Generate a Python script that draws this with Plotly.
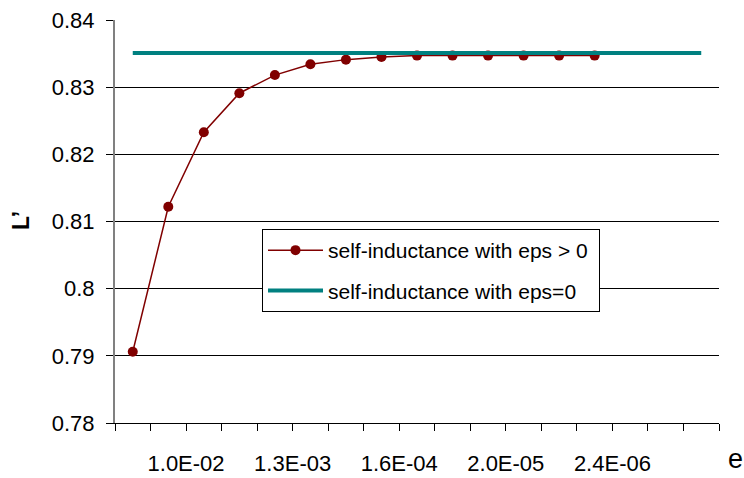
import plotly.graph_objects as go

# x positions are category indices (eps halves at each step)
eps_pos = list(range(14))
l_eps = [0.7906, 0.8122, 0.8233, 0.8291, 0.8318, 0.8334, 0.8341, 0.8345,
         0.8347, 0.8347, 0.8347, 0.8347, 0.8347, 0.8347]
zero_pos = list(range(17))
l_zero = [0.8351] * 17

tick_pos = [1.5, 4.5, 7.5, 10.5, 13.5]
tick_text = ["1.0E-02", "1.3E-03", "1.6E-04", "2.0E-05", "2.4E-06"]
y_ticks = [0.78, 0.79, 0.80, 0.81, 0.82, 0.83, 0.84]
y_text = ["0.78", "0.79", "0.8", "0.81", "0.82", "0.83", "0.84"]

FONT = "Liberation Sans, Arial, sans-serif"

fig = go.Figure()
fig.add_trace(go.Scatter(
    x=eps_pos, y=l_eps, mode="lines+markers",
    name="self-inductance with eps > 0\u00a0", legendgroup="a",
    line=dict(color="#800000", width=1.5),
    marker=dict(color="#800000", size=10),
))
fig.add_trace(go.Scatter(
    x=zero_pos, y=l_zero, mode="lines",
    name="self-inductance with eps=0", legendgroup="b",
    line=dict(color="#008080", width=4),
))

fig.update_layout(
    width=744, height=478,
    margin=dict(l=115, r=25, t=20, b=55),
    paper_bgcolor="white", plot_bgcolor="white",
    font=dict(family=FONT, size=22, color="black"),
    showlegend=True,
    legend=dict(
        x=(262 - 115) / 604, y=(423 - 229) / 403, xanchor="left", yanchor="top",
        bgcolor="white", bordercolor="black", borderwidth=1,
        font=dict(size=21, family=FONT),
        traceorder="grouped", tracegroupgap=10, itemwidth=55,
    ),
    xaxis=dict(
        range=[-0.5, 16.5], tickmode="array", tickvals=tick_pos, ticktext=tick_text,
        showgrid=False, zeroline=False, showline=True, linecolor="black", linewidth=1,
        ticks="outside", ticklen=7, tickcolor="black", tickwidth=1,
        ticklabelstandoff=14, automargin=False,
        minor=dict(tick0=-0.5, dtick=1, ticks="outside", ticklen=7, tickcolor="black", showgrid=False),
        tickfont=dict(size=22),
    ),
    yaxis=dict(
        range=[0.78, 0.84], tickmode="array", tickvals=y_ticks, ticktext=y_text,
        showgrid=True, gridcolor="black", gridwidth=1, zeroline=False,
        showline=True, linecolor="#808080", linewidth=2,
        ticks="outside", ticklen=7, tickcolor="black",
        ticklabelstandoff=7, automargin=False,
        tickfont=dict(size=22),
    ),
    annotations=[
        dict(text="<b>L’</b>", xref="paper", yref="paper", x=(21 - 115) / 604, y=0.501,
             xanchor="center", yanchor="middle", textangle=-90, showarrow=False,
             font=dict(size=23)),
        dict(text="e", xref="paper", yref="paper", x=(735 - 115) / 604, y=(423 - 459) / 403,
             xanchor="center", yanchor="middle", showarrow=False, font=dict(size=27)),
    ],
)

fig.write_html("out.html", config={"displayModeBar": False},
               post_script="document.body.style.margin='0';document.body.style.padding='0';")
